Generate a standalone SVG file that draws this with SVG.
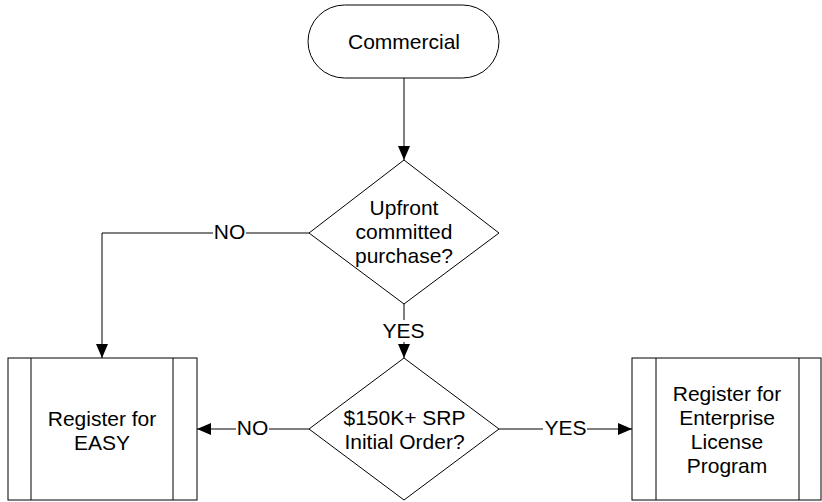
<svg xmlns="http://www.w3.org/2000/svg" width="822" height="502" viewBox="0 0 822 502">
<defs>
<style>
.s{fill:#fff;stroke:#000;stroke-width:1}
.l{fill:none;stroke:#000;stroke-width:1}
text{font-family:"Liberation Sans",Arial,sans-serif;font-size:21px;fill:#000;text-anchor:middle}
.bg{fill:#fff}
</style>
<marker id="ah" markerWidth="14" markerHeight="12" refX="14" refY="6" orient="auto" markerUnits="userSpaceOnUse">
<path d="M0,0 L14,6 L0,12 z" fill="#000"/>
</marker>
</defs>
<rect width="822" height="502" fill="#fff"/>
<g id="connectors">
<path class="l" d="M404,78 V160" marker-end="url(#ah)"/>
<path class="l" d="M309,233 H102 V358" marker-end="url(#ah)"/>
<path class="l" d="M404,304 V358" marker-end="url(#ah)"/>
<path class="l" d="M309,429 H197" marker-end="url(#ah)"/>
<path class="l" d="M499,429 H632" marker-end="url(#ah)"/>
<rect class="bg" x="213" y="222" width="33" height="20"/>
<text x="229.5" y="238.5">NO</text>
<rect class="bg" x="382" y="320" width="43" height="22"/>
<text x="403.5" y="338">YES</text>
<rect class="bg" x="236" y="418" width="33" height="20"/>
<text x="252.5" y="435">NO</text>
<rect class="bg" x="543" y="418" width="44" height="20"/>
<text x="565.5" y="435">YES</text>
</g>
<g id="commercial">
<rect class="s" x="308" y="5" width="191" height="73" rx="36.5" ry="36.5"/>
<text x="404" y="49">Commercial</text>
</g>
<g id="upfront">
<path class="s" d="M404,160 L499,233 L404,304 L309,233 Z"/>
<text x="404" y="215">Upfront</text>
<text x="404" y="239">committed</text>
<text x="404" y="263">purchase?</text>
</g>
<g id="srp">
<path class="s" d="M404,358 L499,429 L404,500 L309,429 Z"/>
<text x="404.5" y="425">$150K+ SRP</text>
<text x="404.5" y="449">Initial Order?</text>
</g>
<g id="easy">
<rect class="s" x="8" y="358" width="189" height="142"/>
<path class="l" d="M31,358 V500 M173,358 V500"/>
<text x="102" y="426">Register for</text>
<text x="102" y="450">EASY</text>
</g>
<g id="enterprise">
<rect class="s" x="632" y="358" width="189" height="142"/>
<path class="l" d="M656,358 V500 M799,358 V500"/>
<text x="727" y="401">Register for</text>
<text x="727" y="425">Enterprise</text>
<text x="727" y="449">License</text>
<text x="727" y="473">Program</text>
</g>
</svg>
